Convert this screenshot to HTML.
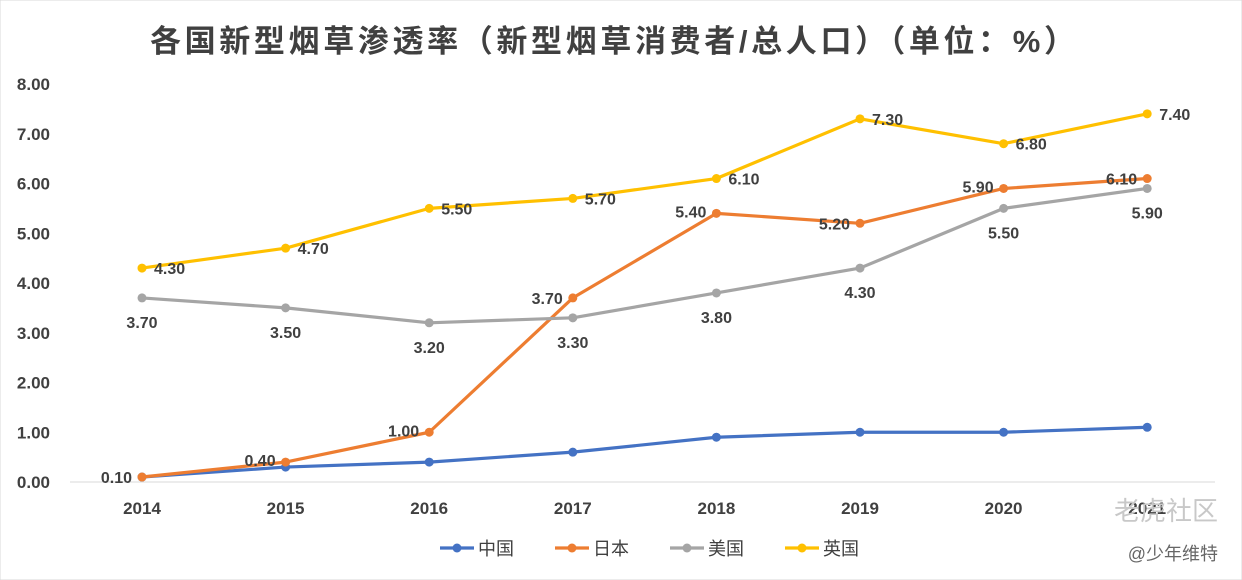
<!DOCTYPE html>
<html><head><meta charset="utf-8"><style>
body{margin:0;background:#fff;}
svg{display:block;font-family:"Liberation Sans","Noto Sans CJK SC",sans-serif;}
</style></head><body>
<svg id="chart" width="1242" height="580" viewBox="0 0 1242 580">
<rect width="1242" height="580" fill="#fff" stroke="#d9d9d9"/>
<text x="150" y="52" textLength="925" lengthAdjust="spacing" font-size="31" font-weight="bold" fill="#404040">各国新型烟草渗透率（新型烟草消费者/总人口）（单位：%）</text>
<g id="yaxis"></g><g id="xaxis"></g><g id="series"></g>
<g id="legend"></g>
<text x="1218" y="520" text-anchor="end" font-size="26" fill="#c8c8c8">老虎社区</text>
<text x="1218" y="560" text-anchor="end" font-size="18" fill="#666">@少年维特</text>
</svg>
<script>
const years=["2014","2015","2016","2017","2018","2019","2020","2021"];
const yTicks=[0,1,2,3,4,5,6,7,8];
const china=[0.1,0.3,0.4,0.6,0.9,1.0,1.0,1.1];
const japan=[0.1,0.4,1.0,3.7,5.4,5.2,5.9,6.1];
const usa=[3.7,3.5,3.2,3.3,3.8,4.3,5.5,5.9];
const uk=[4.3,4.7,5.5,5.7,6.1,7.3,6.8,7.4];
const NS="http://www.w3.org/2000/svg";
const xS=i=>142+i*143.6;
const yS=v=>482-v*49.75;
function mk(tag,attrs,parent,text){const e=document.createElementNS(NS,tag);for(const k in attrs)e.setAttribute(k,attrs[k]);if(text!==undefined)e.textContent=text;parent.appendChild(e);return e;}
const ya=document.getElementById('yaxis'),xa=document.getElementById('xaxis'),sg=document.getElementById('series'),lg=document.getElementById('legend');
yTicks.forEach(v=>{const t=mk('text',{x:50,y:yS(v)+6,'text-anchor':'end','font-size':17,'font-weight':'bold',fill:'#404040'},ya,v.toFixed(2));

});
const ax=mk('line',{x1:70,x2:1215,y1:482,y2:482,stroke:'#d9d9d9','stroke-width':1},xa);


years.forEach((y,i)=>{const t=mk('text',{x:xS(i),y:514,'text-anchor':'middle','font-size':17,'font-weight':'bold',fill:'#404040'},xa,y);

});
const series=[
 {name:'中国',id:'china',data:china,color:'#4472c4',lab:null},
 {name:'日本',id:'japan',data:japan,color:'#ed7d31',lab:'left'},
 {name:'美国',id:'usa',data:usa,color:'#a5a5a5',lab:'below'},
 {name:'英国',id:'uk',data:uk,color:'#ffc000',lab:'right'}];
series.forEach(s=>{
 const g=mk('g',{},sg);
 
 
 const pts=s.data.map((v,i)=>xS(i)+','+yS(v)).join(' ');
 const pl=mk('polyline',{points:pts,fill:'none',stroke:s.color,'stroke-width':3.2,'stroke-linejoin':'round'},g);
 
 
 s.data.forEach((v,i)=>{
  const c=mk('circle',{cx:xS(i),cy:yS(v),r:4.5,fill:s.color},g);
  
  
  if(!s.lab)return;
  let x=xS(i),y=yS(v),a='middle';
  if(s.lab==='right'){x+=12;y+=6;a='start';}
  else if(s.lab==='below'){y+=30;}
  else {x-=10;y+=( i===1||i===2||i===4||i===6)?4:6;a='end';}
  const t=mk('text',{x:x,y:y,'text-anchor':a,'font-size':16,'font-weight':'bold',fill:'#404040'},g,v.toFixed(2));
  
  
 });
});
series.forEach((s,i)=>{
 const x0=440+i*115;
 const g=mk('g',{},lg);
 
 
 mk('line',{x1:x0,x2:x0+34,y1:548,y2:548,stroke:s.color,'stroke-width':3.2},g);
 mk('circle',{cx:x0+17,cy:548,r:4.5,fill:s.color},g);
 mk('text',{x:x0+38,y:555,'font-size':18,fill:'#404040'},g,s.name);
});
</script>
</body></html>
